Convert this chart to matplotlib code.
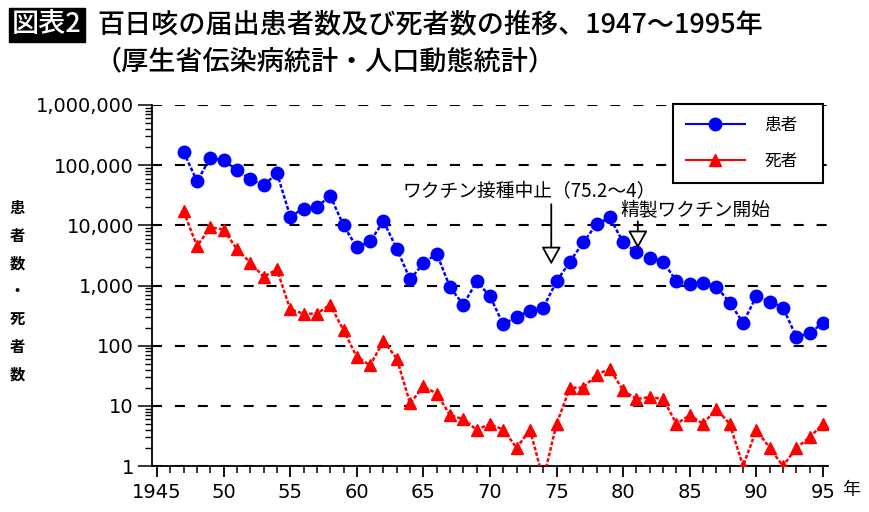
import matplotlib
matplotlib.use("Agg")
import matplotlib.pyplot as plt
from matplotlib.lines import Line2D
from matplotlib.ticker import FixedLocator, FuncFormatter, LogLocator, NullFormatter

plt.rcParams["font.family"] = ["DejaVu Sans", "Noto Sans CJK JP"]
JP = ["Noto Sans CJK JP", "DejaVu Sans"]

# ----------------------------------------------------
# Data
# ----------------------------------------------------

years = list(range(1947, 1996))

patients = [
    165000, 54000, 131000, 121000, 83000, 59000, 46000, 74000, 14000, 19000,
    20000, 31000, 10000, 4300, 5400, 11700, 4100, 1260, 2330, 3400,
    930, 480, 1170, 660, 225, 305, 380, 430, 1170, 2500,
    5200, 10400, 13500, 5200, 3550, 2900, 2500, 1170, 1040, 1120,
    960, 520, 240, 660, 540, 430, 140, 160, 240,
]

# 1974: no deaths, drawn just below the axis (0.6) like the original
deaths = [
    17000, 4500, 9300, 8500, 4000, 2400, 1400, 1850, 400, 340,
    340, 480, 180, 65, 47, 120, 61, 11, 21, 16,
    7, 6, 4, 5, 4, 2, 4, 0.6, 5, 20,
    20, 33, 41, 18, 13, 14, 13, 5, 7, 5,
    9, 5, 1, 4, 2, 1, 2, 3, 5,
]

x_ticks = list(range(1945, 1996, 5))
x_labels = ["1945", "50", "55", "60", "65", "70", "75", "80", "85", "90", "95"]
y_ticks = [1, 10, 100, 1000, 10000, 100000, 1000000]

title_tag = "図表2"
title_1 = "百日咳の届出患者数及び死者数の推移、1947〜1995年"
title_2 = "（厚生省伝染病統計・人口動態統計）"
ylabel_chars = ["患", "者", "数", "・", "死", "者", "数"]
series_names = ["患者", "死者"]

note_stop = "ワクチン接種中止（75.2〜4）"
note_start = "精製ワクチン開始"

# ----------------------------------------------------
# Figure
# ----------------------------------------------------

fig = plt.figure(figsize=(8.7, 5.12), dpi=100)
ax = fig.add_axes([152 / 870, 46 / 512, 676 / 870, 361 / 512])

ax.plot(years, patients, color="#0000ff", lw=1.8, ls=(0, (1.5, 0.8)),
        marker="o", markersize=9, zorder=3)
ax.plot(years, deaths, color="#ff0000", lw=1.8, ls=(0, (1.5, 0.8)),
        marker="^", markersize=8, zorder=3)

ax.set_yscale("log")
ax.set_ylim(1, 1000000)
ax.set_xlim(1944.62, 1995.38)

# ----------------------------------------------------
# Axes, ticks and grid
# ----------------------------------------------------

for side in ["top", "right"]:
    ax.spines[side].set_visible(False)
for side in ["left", "bottom"]:
    ax.spines[side].set_linewidth(1.3)

ax.yaxis.set_major_locator(FixedLocator(y_ticks))
ax.yaxis.set_major_formatter(FuncFormatter(lambda v, p: f"{int(round(v)):,}"))
ax.yaxis.set_minor_locator(LogLocator(base=10, subs=range(2, 10), numticks=20))
ax.yaxis.set_minor_formatter(NullFormatter())

ax.set_xticks(x_ticks)
ax.set_xticklabels(x_labels)
ax.set_xticks(years + [1945, 1946], minor=True)

ax.tick_params(axis="y", which="major", length=10, width=1.1, pad=3,
               labelsize=14, direction="out")
ax.tick_params(axis="y", which="minor", length=5, width=1.0, direction="out")
ax.tick_params(axis="x", which="major", length=8, width=1.3, pad=4,
               labelsize=14, direction="out")
ax.tick_params(axis="x", which="minor", length=5, width=1.1, direction="out")

ax.yaxis.grid(True, which="major", color="black", lw=1.5,
              ls=(0, (4.8, 6.2)), zorder=1)
ax.xaxis.grid(False)

ax.annotate("年", xy=(1995, 0), xycoords=("data", "axes fraction"),
            xytext=(20, -17), textcoords="offset points",
            ha="center", va="center", fontsize=13, family=JP)

# y label, one character per line
for i, ch in enumerate(ylabel_chars):
    fig.text(17 / 870, 1 - (208 + i * 27.8) / 512, ch, ha="center",
             va="center", fontsize=11, weight="bold", family=JP)

# ----------------------------------------------------
# Annotations
# ----------------------------------------------------

arrow = dict(arrowstyle="-|>,head_length=1.08,head_width=0.6",
             fc="white", ec="black", lw=1.3, shrinkA=0, shrinkB=0)

ax.annotate("", xy=(1974.6, 2240), xytext=(1974.6, 22400), arrowprops=arrow)
ax.annotate("", xy=(1981.1, 4150), xytext=(1981.1, 11700), arrowprops=arrow)

ax.text(1963.4, 36900, note_stop, ha="left", va="center",
        fontsize=13.5, family=JP)
ax.text(1979.76, 17800, note_start, ha="left", va="center",
        fontsize=13.5, family=JP)

# ----------------------------------------------------
# Legend
# ----------------------------------------------------

handles = [
    Line2D([], [], color="#0000ff", lw=1.5, marker="o", markersize=9),
    Line2D([], [], color="#ff0000", lw=1.5, marker="^", markersize=8),
]
leg = ax.legend(handles, series_names, loc="upper left",
                bbox_to_anchor=(0.7707, 0.79, 0.2219, 0.2128),
                mode="expand", borderaxespad=0, borderpad=0.8,
                labelspacing=1.1, handlelength=3.5, handletextpad=1.2,
                fancybox=False, framealpha=1, edgecolor="black",
                prop={"family": JP, "size": 12})
leg.get_frame().set_linewidth(1.5)

# ----------------------------------------------------
# Title
# ----------------------------------------------------

fig.text(12 / 870, 1 - 25 / 512, title_tag, color="white", ha="left",
         va="center", fontsize=19.5, weight="medium", family=JP,
         bbox=dict(facecolor="black", edgecolor="black",
                   boxstyle="square,pad=0.12"))
fig.text(97 / 870, 1 - 25 / 512, title_1, ha="left", va="center",
         fontsize=19.5, weight="medium", family=JP)
fig.text(95 / 870, 1 - 62 / 512, title_2, ha="left", va="center",
         fontsize=19.5, weight="medium", family=JP)

fig.savefig("out.png", dpi=100)
